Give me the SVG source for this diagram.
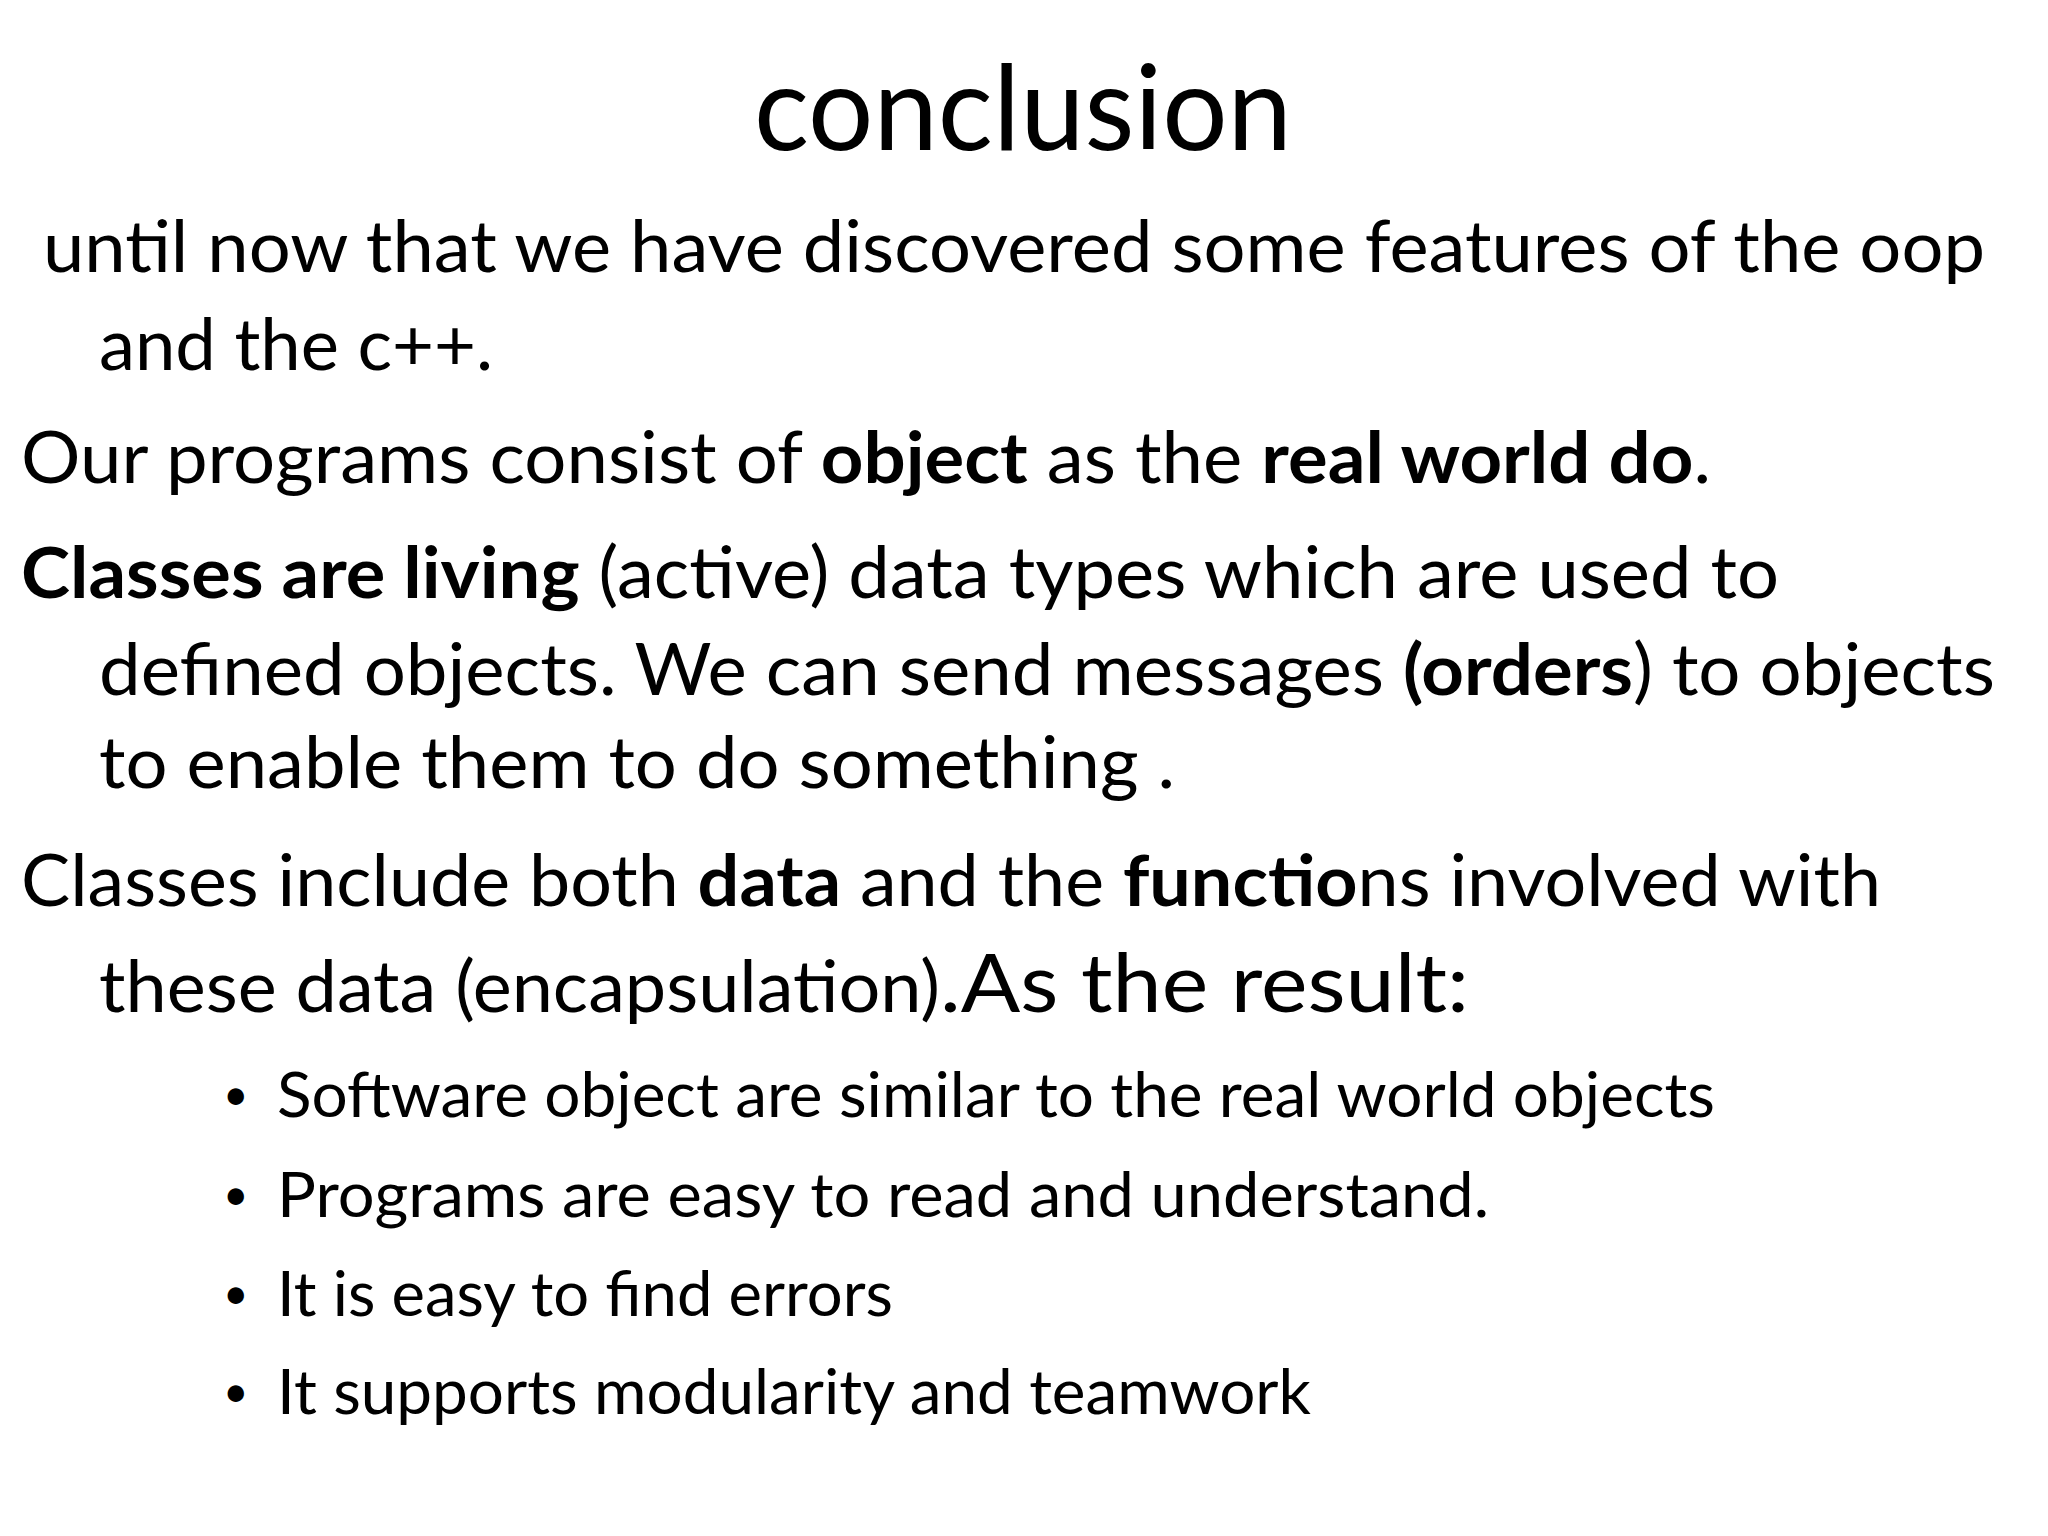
<svg xmlns="http://www.w3.org/2000/svg" width="2048" height="1536" viewBox="0 0 2048 1536">
<style>
text{font-family:Lato,"Open Sans","DejaVu Sans",sans-serif;fill:#000}
.b{font-size:71px}
.s{font-size:61px}
.d{font-size:44px}
.bd{font-weight:bold}
</style>
<rect width="2048" height="1536" fill="#fff"/>
<g id="title"><text x="1023" y="150" font-size="118" text-anchor="middle" textLength="538" lengthAdjust="spacingAndGlyphs">conclusion</text></g>
<g id="body">
<text class="b" x="43" y="272" textLength="1942" lengthAdjust="spacingAndGlyphs">until now that we have discovered some features of the oop</text>
<text class="b" x="99" y="370" textLength="394" lengthAdjust="spacingAndGlyphs">and the c++.</text>
<text class="b" x="21" y="483" textLength="1690" lengthAdjust="spacingAndGlyphs">Our programs consist of <tspan class="bd">object</tspan> as the <tspan class="bd">real world do</tspan>.</text>
<text class="b" x="21" y="598" textLength="1758" lengthAdjust="spacingAndGlyphs"><tspan class="bd">Classes are living</tspan> (active) data types which are used to</text>
<text class="b" x="99" y="695" textLength="1896" lengthAdjust="spacingAndGlyphs">defined objects. We can send messages <tspan class="bd">(orders</tspan>) to objects</text>
<text class="b" x="99" y="788" textLength="1076" lengthAdjust="spacingAndGlyphs">to enable them to do something .</text>
<text class="b" x="21" y="906" textLength="1860" lengthAdjust="spacingAndGlyphs">Classes include both <tspan class="bd">data</tspan> and the <tspan class="bd">functio</tspan>ns involved with</text>
<text class="b" x="99" y="1012" textLength="841" lengthAdjust="spacingAndGlyphs">these data (encapsulation)</text>
<text x="940" y="1012" font-size="82" textLength="529" lengthAdjust="spacingAndGlyphs">.As the result:</text>
</g>
<g id="bullets">
<text class="d" x="223" y="1110">•</text><text class="s" x="277" y="1117" textLength="1438" lengthAdjust="spacingAndGlyphs">Software object are similar to the real world objects</text>
<text class="d" x="223" y="1210">•</text><text class="s" x="277" y="1217" textLength="1212" lengthAdjust="spacingAndGlyphs">Programs are easy to  read and understand.</text>
<text class="d" x="223" y="1309">•</text><text class="s" x="277" y="1316" textLength="616" lengthAdjust="spacingAndGlyphs">It is easy to find errors</text>
<text class="d" x="223" y="1407">•</text><text class="s" x="277" y="1414" textLength="1034" lengthAdjust="spacingAndGlyphs">It supports modularity and teamwork</text>
</g>
</svg>
